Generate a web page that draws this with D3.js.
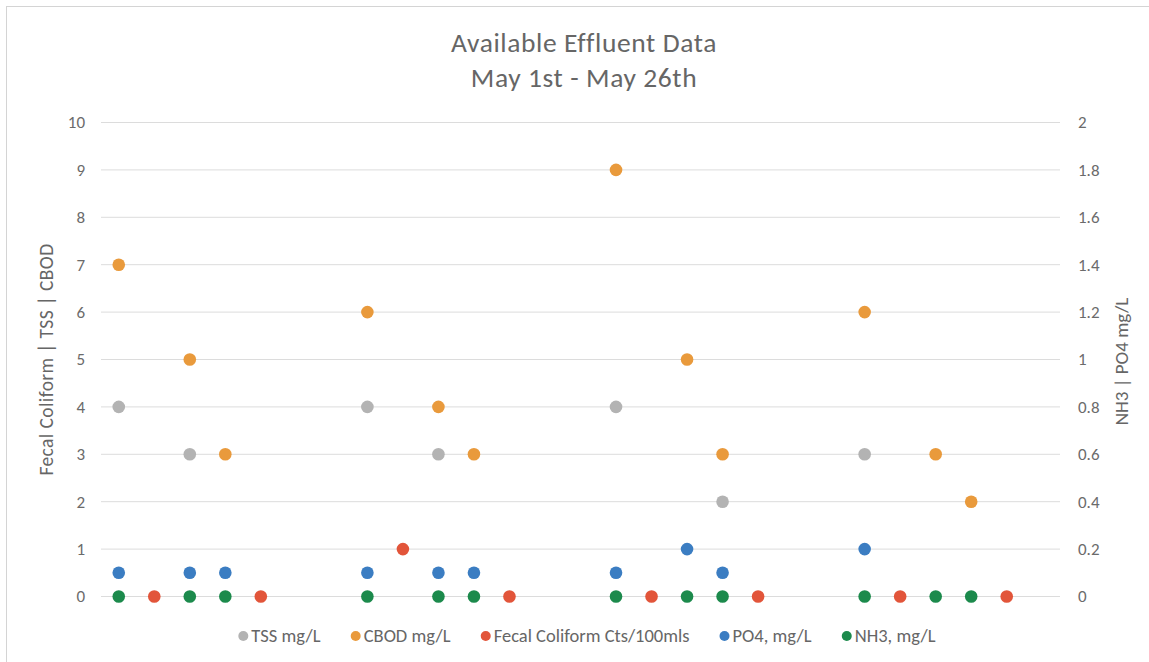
<!DOCTYPE html>
<html>
<head>
<meta charset="utf-8">
<script src="https://cdn.jsdelivr.net/npm/d3@7/dist/d3.min.js"></script>
<style>
  html, body { margin: 0; padding: 0; background: #fff; }
  svg { display: block; font-family: Carlito, Lato, "Open Sans", sans-serif; }
</style>
</head>
<body>
<svg id="chart" width="1149" height="662"></svg>
<script>
// ---- Data ----
const days = ["May 1","May 2","May 3","May 4","May 5","May 6","May 7","May 8","May 9","May 10",
  "May 11","May 12","May 13","May 14","May 15","May 16","May 17","May 18","May 19","May 20",
  "May 21","May 22","May 23","May 24","May 25","May 26","May 27"];
const tss   = [4,null,3,null,null,null,null,4,null,3,null,null,null,null,4,null,null,2,null,null,null,3,null,null,null,null,null];
const cbod  = [7,null,5,3,null,null,null,6,null,4,3,null,null,null,9,null,5,3,null,null,null,6,null,3,2,null,null];
const fecal = [null,0,null,null,0,null,null,null,1,null,null,0,null,null,null,0,null,null,0,null,null,null,0,null,null,0,null];
const po4   = [0.1,null,0.1,0.1,null,null,null,0.1,null,0.1,0.1,null,null,null,0.1,null,0.2,0.1,null,null,null,0.2,null,null,null,null,null];
const nh3   = [0,null,0,0,null,null,null,0,null,0,0,null,null,null,0,null,0,0,null,null,null,0,null,0,0,null,null];
const leftTicks  = [0,1,2,3,4,5,6,7,8,9,10];
const rightTicks = [0,0.2,0.4,0.6,0.8,1,1.2,1.4,1.6,1.8,2];
const seriesNames = ["TSS mg/L","CBOD mg/L","Fecal Coliform Cts/100mls","PO4, mg/L","NH3, mg/L"];
const seriesColors = ["#b3b3b3","#e99a3c","#e2553a","#3b7dc2","#1c8a4c"];
const titleLines = ["Available Effluent Data","May 1st - May 26th"];

// ---- Layout ----
const svg = d3.select("#chart");
const plot = { left: 101, right: 1060, top: 122.5, bottom: 596.5 };

svg.append("rect").attr("x", 6.5).attr("y", 6.5).attr("width", 1160).attr("height", 670)
  .attr("fill", "none").attr("stroke", "#d4d4d4").attr("stroke-width", 1);

const x = d3.scaleBand().domain(days).range([plot.left, plot.right]).padding(0);
const yL = d3.scaleLinear().domain([0, 10]).range([plot.bottom, plot.top]);
const yR = d3.scaleLinear().domain([0, 2]).range([plot.bottom, plot.top]);

// gridlines
svg.append("g").selectAll("line").data(leftTicks).join("line")
  .attr("x1", plot.left).attr("x2", plot.right)
  .attr("y1", d => yL(d)).attr("y2", d => yL(d))
  .attr("stroke", "#dcdcdc").attr("stroke-width", 1);

// left axis
const axL = svg.append("g").attr("transform", `translate(${plot.left},0)`)
  .call(d3.axisLeft(yL).tickValues(leftTicks).tickSize(0).tickPadding(16).tickFormat(d3.format("d")));
axL.select(".domain").remove();
axL.selectAll("text").attr("font-size", 17).attr("fill", "#6b6b6b").attr("font-family", "Carlito, Lato, sans-serif");

// right axis
const axR = svg.append("g").attr("transform", `translate(${plot.right},0)`)
  .call(d3.axisRight(yR).tickValues(rightTicks).tickSize(0).tickPadding(18).tickFormat(d => String(+d.toFixed(1))));
axR.select(".domain").remove();
axR.selectAll("text").attr("font-size", 17).attr("fill", "#6b6b6b").attr("font-family", "Carlito, Lato, sans-serif");

// title
svg.append("g").selectAll("text").data(titleLines).join("text")
  .attr("x", 584).attr("y", (d, i) => 52 + i * 35)
  .attr("text-anchor", "middle").attr("font-size", 27.5).attr("letter-spacing", 0.6).attr("fill", "#666")
  .text(d => d);

// axis titles
svg.append("text").attr("transform", `translate(53,${(plot.top + plot.bottom) / 2}) rotate(-90)`)
  .attr("text-anchor", "middle").attr("font-size", 19.5).attr("letter-spacing", 0.4).attr("fill", "#666")
  .text("Fecal Coliform | TSS | CBOD");
svg.append("text").attr("transform", `translate(1128,${(plot.top + plot.bottom) / 2 + 2}) rotate(-90)`)
  .attr("text-anchor", "middle").attr("font-size", 19).attr("fill", "#666")
  .text("NH3 | PO4 mg/L");

// points
const series = [
  { vals: tss, y: yL }, { vals: cbod, y: yL }, { vals: fecal, y: yL },
  { vals: po4, y: yR }, { vals: nh3, y: yR }
];
series.forEach((s, si) => {
  const pts = days.map((d, i) => ({ d, v: s.vals[i] })).filter(p => p.v !== null);
  svg.append("g").selectAll("circle").data(pts).join("circle")
    .attr("cx", p => x(p.d) + x.bandwidth() / 2)
    .attr("cy", p => s.y(p.v))
    .attr("r", 6.3)
    .attr("fill", seriesColors[si]);
});

// legend
const gap = 30;
const legend = svg.append("g").attr("transform", "translate(0,636)");
let lx = 0;
const items = legend.selectAll("g").data(seriesNames).join("g");
items.each(function(name, i) {
  const g = d3.select(this);
  g.append("circle").attr("cx", 0).attr("cy", 0).attr("r", 5).attr("fill", seriesColors[i]);
  g.append("text").attr("x", 8).attr("y", 6).attr("font-size", 18.5).attr("fill", "#666").text(name);
});
items.each(function() {
  const w = this.getBBox().width;
  d3.select(this).attr("transform", `translate(${lx + 5},0)`);
  lx += w + gap;
});
const totalW = lx - gap;
legend.attr("transform", `translate(${587 - totalW / 2},636)`);
</script>
</body>
</html>
